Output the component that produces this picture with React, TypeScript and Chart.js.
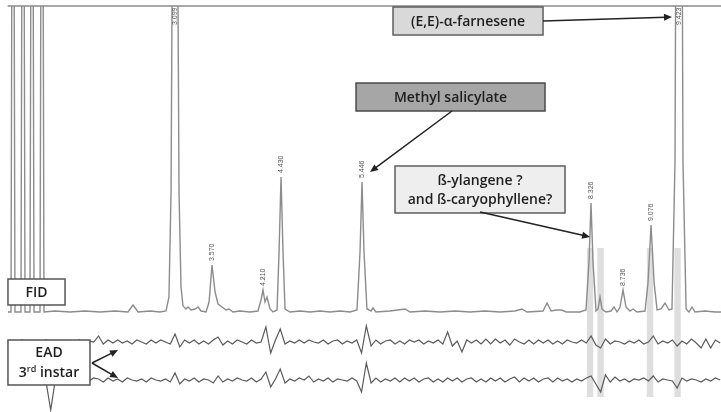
import React, { useEffect, useRef } from "react";
import { Chart, registerables } from "chart.js";
Chart.register(...registerables);

// Retention time (min) and FID signal above baseline
const FID_TIME = [1.004,1.042,1.067,1.092,1.167,1.193,1.218,1.280,1.306,1.331,1.406,1.431,1.456,1.594,1.782,1.971,2.159,2.347,2.510,2.573,2.636,2.786,2.911,2.987,3.024,3.050,3.075,3.100,3.125,3.150,3.175,3.200,3.237,3.263,3.301,3.351,3.389,3.426,3.489,3.527,3.564,3.602,3.640,3.690,3.740,3.777,3.827,3.915,4.041,4.141,4.179,4.204,4.229,4.254,4.292,4.329,4.380,4.405,4.430,4.455,4.480,4.543,4.668,4.794,4.919,5.045,5.170,5.295,5.383,5.421,5.446,5.471,5.508,5.559,5.584,5.621,5.797,5.986,6.048,6.237,6.425,6.613,6.801,6.989,7.177,7.365,7.454,7.516,7.717,7.768,7.818,7.885,7.948,8.010,8.177,8.256,8.294,8.319,8.344,8.382,8.407,8.432,8.457,8.507,8.570,8.608,8.646,8.683,8.721,8.758,8.808,8.846,8.896,8.997,9.035,9.072,9.110,9.148,9.198,9.248,9.298,9.335,9.373,9.398,9.423,9.448,9.473,9.512,9.549,9.586,9.624,9.750,9.875,9.950];
const FID_SIGNAL = [0,0,800,0,0,800,0,0,800,0,0,800,0,1,0,1,0,1,0,7,0,1,0,1,15,120,500,900,500,120,25,6,3,5,2,3,5,1,0,10,47,20,8,5,2,3,0,1,0,1,12,22,10,15,3,0,2,60,135,60,3,0,1,0,1,0,1,0,2,60,130,60,3,1,4,0,1,3,0,1,0,1,0,1,0,1,3,0,1,9,1,2,2,0,0,2,50,109,50,1,3,15,3,0,1,5,0,5,22,5,1,3,0,1,30,87,30,2,3,9,2,3,150,700,900,700,150,3,0,5,0,1,0,0];

// EAD recordings, sampled every 0.06 min from 1.00 min
const EAD_START = 1.0;
const EAD_STEP = 0.06;
const EAD1_SIGNAL = [
  0,1,-1,2,0,-1,1,0,2,-1,
  1,0,-2,1,0,2,-1,1,0,6,
  -2,2,-1,2,-1,1,-2,2,0,-2,
  2,-1,2,0,-2,8,-5,2,-1,2,
  -2,1,-2,2,5,-3,1,-2,2,0,
  -2,2,-1,0,15,-11,2,13,-2,1,
  -1,2,-1,2,0,-1,2,-2,1,2,
  -2,1,-1,2,-11,16,-4,2,-2,1,
  2,-2,1,-2,2,0,2,-2,1,-1,
  2,-2,10,-4,1,-10,2,-1,2,-2,
  3,-2,3,-1,2,-3,3,0,-2,2,
  -2,2,-1,2,-2,1,-2,2,0,-1,
  2,-1,6,-3,-6,3,-2,1,0,-2,
  1,-1,2,-2,0,6,-2,1,-1,2,
  -4,1,-2,3,-1,-6,3,-6,2,-1,
];
const EAD2_SIGNAL = [
  0,1,-1,0,2,-1,0,1,-1,-30,
  1,0,-1,2,-2,1,0,-1,2,1,
  -2,2,-1,1,-2,2,0,-1,1,-2,
  2,0,-1,1,-2,7,-4,1,-1,2,
  -2,1,0,-3,4,-2,1,-1,2,0,
  -1,2,-2,1,8,-7,1,11,-3,1,
  -1,2,0,4,-2,1,-1,2,-2,1,
  0,-1,2,-1,-12,17,-3,2,-2,1,
  -1,2,-2,2,-1,2,-2,1,2,-2,
  1,-2,2,-1,2,-2,1,2,-2,1,
  -2,2,-1,2,-2,1,3,-2,2,-1,
  2,-2,1,2,-2,2,-1,1,-2,1,
  -1,2,4,-4,-12,5,-2,3,-1,1,
  -2,1,0,2,-1,4,-2,1,0,-1,
  -8,2,-1,1,0,-2,1,-1,2,0,
];

const FID_OFFSET = 100;
const EAD1_OFFSET = 70;
const EAD2_OFFSET = 32;

const PEAK_TIMES = [3.100, 3.564, 4.204, 4.430, 5.446, 8.319, 8.721, 9.072, 9.423];
const PEAK_LABELS = ["3.099", "3.570", "4.210", "4.430", "5.446", "8.326", "8.736", "9.076", "9.423"];

// EAD-active retention windows (shaded)
const ACTIVE_TIMES = [8.307, 8.439, 9.060, 9.405];
const ACTIVE_WIDTH = 0.08;
const ACTIVE_LOW = 15;
const ACTIVE_HIGH = 164;

const X_MIN = 0.904;
const X_MAX = 9.95;
const Y_MIN = 0;
const Y_MAX = 406;

type Box = { lines: string[]; t0: number; t1: number; v0: number; v1: number; fill: string; stroke: string };
const BOXES: Box[] = [
  { lines: ["(E,E)-α-farnesene"], t0: 5.835, t1: 7.717, v0: 405, v1: 377, fill: "#d9d9d9", stroke: "#5e5e5e" },
  { lines: ["Methyl salicylate"], t0: 5.371, t1: 7.742, v0: 329, v1: 301, fill: "#a6a6a6", stroke: "#4a4a4a" },
  { lines: ["ß-ylangene ?", "and ß-caryophyllene?"], t0: 5.860, t1: 7.993, v0: 246, v1: 199, fill: "#eeeeee", stroke: "#5e5e5e" },
  { lines: ["FID"], t0: 1.004, t1: 1.720, v0: 133, v1: 107, fill: "#ffffff", stroke: "#555555" },
];
const EAD_BOX = { t0: 1.004, t1: 2.033, v0: 72, v1: 27 };

const ARROWS = [
  { from: [7.717, 391], to: [9.335, 395] },
  { from: [6.575, 301], to: [5.546, 240] },
  { from: [6.927, 200], to: [8.307, 175] },
  { from: [2.058, 49], to: [2.385, 62] },
  { from: [2.058, 49], to: [2.385, 34] },
];

const BIG_FONT = "600 14px 'Open Sans', Lato, sans-serif";
const SMALL_FONT = "600 9px 'Open Sans', Lato, sans-serif";

export default function App() {
  const ref = useRef<HTMLCanvasElement | null>(null);

  useEffect(() => {
    const canvas = ref.current;
    if (!canvas) return;

    const fidData = FID_TIME.map((t, i) => ({ x: t, y: FID_OFFSET + FID_SIGNAL[i] }));
    const ead1Data = EAD1_SIGNAL.map((v, i) => ({ x: EAD_START + i * EAD_STEP, y: EAD1_OFFSET + v }));
    const ead2Data = EAD2_SIGNAL.map((v, i) => ({ x: EAD_START + i * EAD_STEP, y: EAD2_OFFSET + v }));

    const decor = {
      id: "decor",
      beforeDatasetsDraw(chart: any) {
        const { ctx, scales } = chart;
        const xs = scales.x, ys = scales.y;
        ctx.save();
        ctx.fillStyle = "rgba(195,195,195,0.55)";
        ACTIVE_TIMES.forEach((t) => {
          const a = xs.getPixelForValue(t - ACTIVE_WIDTH / 2);
          const b = xs.getPixelForValue(t + ACTIVE_WIDTH / 2);
          const top = ys.getPixelForValue(ACTIVE_HIGH);
          const bot = ys.getPixelForValue(ACTIVE_LOW);
          ctx.fillRect(a, top, b - a, bot - top);
        });
        ctx.restore();
      },
      afterDatasetsDraw(chart: any) {
        const { ctx, scales, chartArea } = chart;
        const xs = scales.x, ys = scales.y;
        const px = (t: number) => xs.getPixelForValue(t);
        const py = (v: number) => ys.getPixelForValue(v);
        ctx.save();
        // top frame line
        ctx.strokeStyle = "#8a8a8a";
        ctx.lineWidth = 1.5;
        ctx.beginPath();
        ctx.moveTo(px(1.0), chartArea.top);
        ctx.lineTo(chartArea.right, chartArea.top);
        ctx.stroke();

        // peak labels
        ctx.fillStyle = "#555";
        ctx.font = "7px 'Liberation Sans', Arial, sans-serif";
        ctx.textAlign = "left";
        ctx.textBaseline = "middle";
        PEAK_TIMES.forEach((t, k) => {
          let best = 0;
          FID_TIME.forEach((ft, i) => {
            if (Math.abs(ft - t) < 0.03 && FID_SIGNAL[i] > best) best = FID_SIGNAL[i];
          });
          let yStart = py(FID_OFFSET + best) - 4;
          if (yStart < chartArea.top + 20) yStart = chartArea.top + 19;
          ctx.save();
          ctx.translate(px(t), yStart);
          ctx.rotate(-Math.PI / 2);
          ctx.fillText(PEAK_LABELS[k], 0, 0);
          ctx.restore();
        });

        // boxes
        BOXES.forEach((b) => {
          const x0 = px(b.t0), x1 = px(b.t1), y0 = py(b.v0), y1 = py(b.v1);
          ctx.fillStyle = b.fill;
          ctx.fillRect(x0, y0, x1 - x0, y1 - y0);
          ctx.strokeStyle = b.stroke;
          ctx.lineWidth = 1.5;
          ctx.strokeRect(x0, y0, x1 - x0, y1 - y0);
          ctx.fillStyle = "#1e1e1e";
          ctx.font = BIG_FONT;
          ctx.textAlign = "center";
          ctx.textBaseline = "middle";
          const cx = (x0 + x1) / 2, cy = (y0 + y1) / 2;
          const lh = 19;
          b.lines.forEach((ln, i) => {
            ctx.fillText(ln, cx, cy + (i - (b.lines.length - 1) / 2) * lh + 1);
          });
        });

        // EAD box
        {
          const x0 = px(EAD_BOX.t0), x1 = px(EAD_BOX.t1), y0 = py(EAD_BOX.v0), y1 = py(EAD_BOX.v1);
          ctx.fillStyle = "#fff";
          ctx.fillRect(x0, y0, x1 - x0, y1 - y0);
          ctx.strokeStyle = "#555";
          ctx.lineWidth = 1.5;
          ctx.strokeRect(x0, y0, x1 - x0, y1 - y0);
          const cx = (x0 + x1) / 2, cy = (y0 + y1) / 2;
          ctx.fillStyle = "#1e1e1e";
          ctx.font = BIG_FONT;
          ctx.textAlign = "center";
          ctx.textBaseline = "middle";
          ctx.fillText("EAD", cx, cy - 9);
          ctx.font = BIG_FONT;
          const w3 = ctx.measureText("3").width;
          const wi = ctx.measureText(" instar").width;
          ctx.font = SMALL_FONT;
          const wr = ctx.measureText("rd").width;
          const total = w3 + wr + wi;
          let sx = cx - total / 2;
          ctx.textAlign = "left";
          ctx.font = BIG_FONT;
          ctx.fillText("3", sx, cy + 11);
          sx += w3;
          ctx.font = SMALL_FONT;
          ctx.fillText("rd", sx, cy + 7);
          sx += wr;
          ctx.font = BIG_FONT;
          ctx.fillText(" instar", sx, cy + 11);
        }

        // arrows
        ctx.strokeStyle = "#222";
        ctx.fillStyle = "#222";
        ctx.lineWidth = 1.5;
        ARROWS.forEach((a) => {
          const x0 = px(a.from[0]), y0 = py(a.from[1]);
          const x1 = px(a.to[0]), y1 = py(a.to[1]);
          const ang = Math.atan2(y1 - y0, x1 - x0);
          const L = 8, W = 3.5;
          ctx.beginPath();
          ctx.moveTo(x0, y0);
          ctx.lineTo(x1 - Math.cos(ang) * L * 0.8, y1 - Math.sin(ang) * L * 0.8);
          ctx.stroke();
          ctx.beginPath();
          ctx.moveTo(x1, y1);
          ctx.lineTo(x1 - Math.cos(ang) * L + Math.sin(ang) * W, y1 - Math.sin(ang) * L - Math.cos(ang) * W);
          ctx.lineTo(x1 - Math.cos(ang) * L - Math.sin(ang) * W, y1 - Math.sin(ang) * L + Math.cos(ang) * W);
          ctx.closePath();
          ctx.fill();
        });
        ctx.restore();
      },
    };

    const chart = new Chart(canvas, {
      type: "line",
      data: {
        datasets: [
          { label: "FID", data: fidData, borderColor: "#8c8c8c", borderWidth: 1.4, pointRadius: 0, tension: 0, fill: false },
          { label: "EAD 1", data: ead1Data, borderColor: "#5a5a5a", borderWidth: 1.2, pointRadius: 0, tension: 0, fill: false },
          { label: "EAD 2", data: ead2Data, borderColor: "#5a5a5a", borderWidth: 1.2, pointRadius: 0, tension: 0, fill: false },
        ],
      },
      options: {
        animation: false,
        responsive: false,
        maintainAspectRatio: false,
        layout: { padding: { top: 6, left: 0, right: 0, bottom: 0 } },
        plugins: { legend: { display: false }, tooltip: { enabled: false } },
        scales: {
          x: { type: "linear", min: X_MIN, max: X_MAX, display: false },
          y: { type: "linear", min: Y_MIN, max: Y_MAX, display: false },
        },
      },
      plugins: [decor],
    });
    return () => chart.destroy();
  }, []);

  return (
    <div style={{ position: "fixed", left: 0, top: 0, width: 721, height: 412, background: "#fff" }}>
      <canvas ref={ref} width={721} height={412} style={{ width: 721, height: 412, display: "block" }} />
    </div>
  );
}
